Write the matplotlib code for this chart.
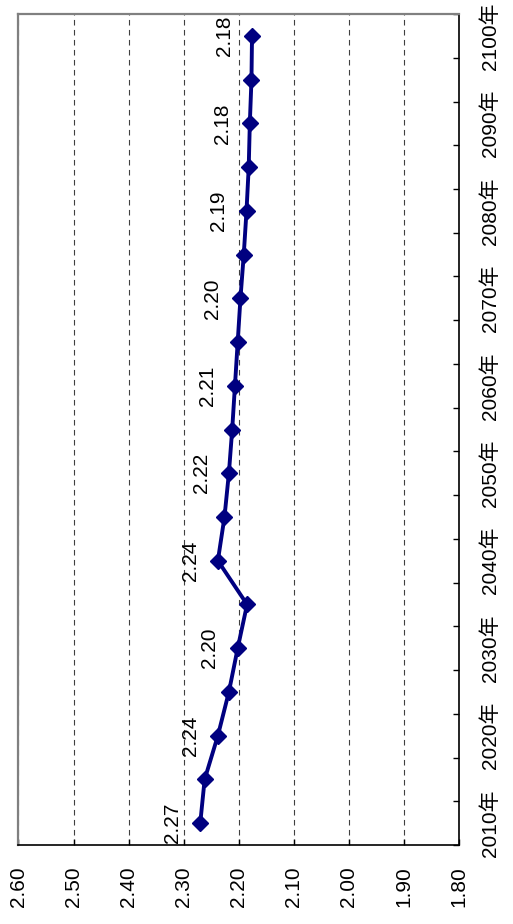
"""Rotated line chart of projected values, 2010-2100."""
import matplotlib
matplotlib.use('Agg')
import matplotlib.pyplot as plt
import numpy as np

plt.rcParams['font.family'] = ['Liberation Sans', 'Noto Sans CJK JP', 'DejaVu Sans']

YEARS = list(range(2010, 2101, 5))
VALUES = [2.27, 2.262, 2.238, 2.218, 2.202, 2.185, 2.238, 2.226, 2.218, 2.212,
          2.207, 2.202, 2.197, 2.191, 2.186, 2.182, 2.180, 2.177, 2.176]
VALUE_TICKS = [1.80, 1.90, 2.00, 2.10, 2.20, 2.30, 2.40, 2.50, 2.60]
NAVY = '#000080'
FS = 15


def main():
    fig = plt.figure(figsize=(5.13, 9.24), dpi=100)
    ax = fig.add_axes([0.036, 0.0855, 0.859, 0.8993])

    pos = np.arange(len(YEARS))
    ax.plot(VALUES, pos, color=NAVY, lw=2.8, marker='D', ms=8.4,
            mfc=NAVY, mec=NAVY, zorder=3, clip_on=False)

    # data labels on every other point
    for i in range(0, len(YEARS), 2):
        ax.annotate(f'{VALUES[i]:.2f}', (VALUES[i], pos[i]), xytext=(-20, 0),
                    textcoords='offset points', rotation=90, ha='center',
                    va='center', fontsize=FS)

    ax.set_xlim(2.60, 1.80)
    ax.set_ylim(-0.5, len(YEARS) - 0.5)

    ax.set_xticks(VALUE_TICKS)
    ax.set_xticklabels([f'{v:.2f}' for v in VALUE_TICKS], rotation=90,
                       fontsize=FS)
    ax.tick_params(axis='x', direction='in', length=4, width=1, pad=15.5)

    # category axis on the right: ticks between categories, labels every 10 years
    ax.yaxis.tick_right()
    ax.set_yticks(np.arange(-0.5, len(YEARS), 1.0))
    ax.set_yticklabels([])
    ax.tick_params(axis='y', which='major', direction='in', length=4, width=1)
    ax.set_yticks(pos[::2], minor=True)
    ax.set_yticklabels([f'{y}年' for y in YEARS[::2]], minor=True,
                       rotation=90, va='center', fontsize=FS)
    ax.tick_params(axis='y', which='minor', length=0, pad=15.5)

    ax.grid(axis='x', color='#404040', lw=0.8, dashes=(5, 4))
    ax.grid(axis='y', visible=False)
    ax.set_axisbelow(True)

    for side in ('left', 'top'):
        ax.spines[side].set_color('#808080')
        ax.spines[side].set_linewidth(1.6)
    for side in ('right', 'bottom'):
        ax.spines[side].set_color('black')
        ax.spines[side].set_linewidth(1.2)

    fig.savefig('out.png', dpi=100)


if __name__ == '__main__':
    main()
